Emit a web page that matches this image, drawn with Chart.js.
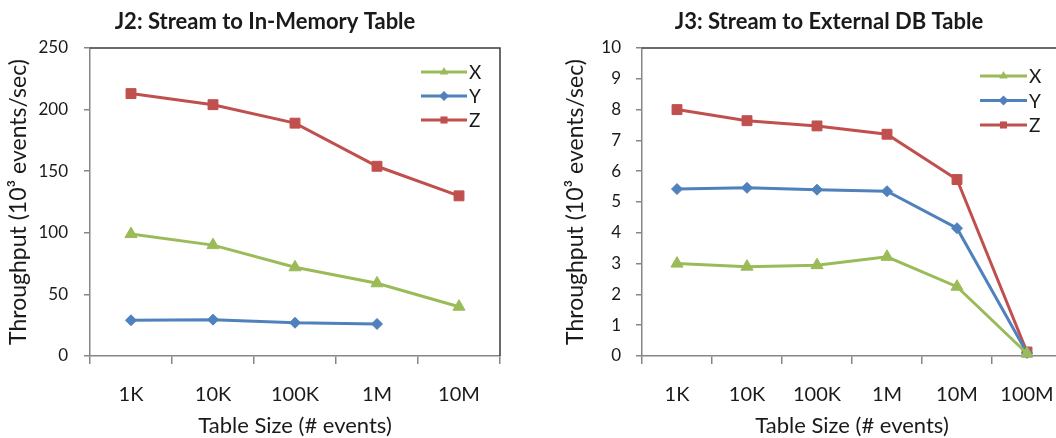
<!DOCTYPE html>
<html>
<head>
<meta charset="utf-8">
<script src="https://cdn.jsdelivr.net/npm/chart.js@4.4.1/dist/chart.umd.min.js"></script>
<style>
  html, body { margin: 0; padding: 0; background: #fff; overflow: hidden; }
  #wrap { position: relative; width: 1056px; height: 438px; overflow: hidden; }
  #wrap canvas { position: absolute; top: 0; }
</style>
</head>
<body>
<div id="wrap">
  <canvas id="j2" width="530" height="438" style="left:0"></canvas>
  <canvas id="j3" width="598" height="438" style="left:530px"></canvas>
</div>
<script>
// J2: stream joined with an in-memory table (10^3 events/sec)
const sizesJ2 = ['1K', '10K', '100K', '1M', '10M'];
const j2X = [99, 90, 72, 59, 40];
const j2Y = [29, 29.5, 27, 26, null];
const j2Z = [213, 204, 189, 154, 130];

// J3: stream joined with an external DB table (10^3 events/sec)
const sizesJ3 = ['1K', '10K', '100K', '1M', '10M', '100M'];
const j3X = [3.0, 2.9, 2.95, 3.22, 2.25, 0.08];
const j3Y = [5.42, 5.46, 5.4, 5.35, 4.15, 0.1];
const j3Z = [8.0, 7.64, 7.47, 7.2, 5.73, 0.13];

const FONT = 'Lato, "Open Sans", sans-serif';
const GREEN = '#9BBB59', BLUE = '#4F81BD', RED = '#C0504D';
const AXIS = '#868686', INK = '#1a1a1a';

// plot frame on top/right plus the little key inside the plot
const frameAndKey = {
  id: 'frameAndKey',
  afterDatasetsDraw(chart, args, opts) {
    const { ctx, chartArea: a } = chart;
    ctx.save();
    ctx.strokeStyle = '#3a3a3a';
    ctx.lineWidth = 1.5;
    ctx.beginPath();
    ctx.moveTo(a.left, a.top);
    ctx.lineTo(a.right, a.top);
    ctx.lineTo(a.right, a.bottom);
    ctx.stroke();

    chart.data.datasets.forEach((ds, i) => {
      const y = a.top + opts.top + i * opts.gap;
      const x0 = a.right - opts.start, x1 = a.right - opts.end;
      ctx.strokeStyle = ds.borderColor;
      ctx.lineWidth = 3;
      ctx.beginPath();
      ctx.moveTo(x0, y);
      ctx.lineTo(x1, y);
      ctx.stroke();
      ctx.fillStyle = ds.borderColor;
      Chart.helpers.drawPoint(ctx, {
        pointStyle: ds.pointStyle, radius: 5, rotation: 0, borderWidth: 0
      }, (x0 + x1) / 2, y);
      ctx.fillStyle = INK;
      ctx.font = '19px ' + FONT;
      ctx.textBaseline = 'middle';
      ctx.textAlign = 'left';
      ctx.fillText(ds.label, x1 + 2, y + 1);
    });
    ctx.restore();
  }
};

function series(label, data, color, style, radius) {
  return {
    label: label, data: data,
    borderColor: color, backgroundColor: color,
    borderWidth: 3, pointStyle: style,
    pointRadius: radius, pointBorderWidth: 1,
    pointHoverRadius: radius,
    tension: 0, clip: false, spanGaps: false
  };
}

// the side padding is kept equal so the title sits centred on the canvas;
// the y axis box is narrowed by the same amount and its title pulled left
function makeChart(id, title, labels, xs, ys, zs, yMax, step, box) {
  return new Chart(document.getElementById(id), {
    type: 'line',
    data: {
      labels: labels,
      datasets: [
        series('X', xs, GREEN, 'triangle', 7),
        series('Y', ys, BLUE, 'rectRot', 5.5),
        series('Z', zs, RED, 'rect', 7)
      ]
    },
    options: {
      responsive: false,
      animation: false,
      layout: { padding: { left: box.side, right: box.side, top: 0, bottom: 0 } },
      plugins: {
        legend: { display: false },
        tooltip: { enabled: false },
        title: {
          display: true, text: title, color: INK,
          font: { family: FONT, size: 22, weight: 'bold', lineHeight: 1.2 },
          padding: { top: 9, bottom: 12.6 }
        },
        frameAndKey: box.key
      },
      scales: {
        x: {
          offset: true,
          afterFit: s => { s.height = 82; },
          grid: {
            offset: true, drawOnChartArea: false, tickLength: 8,
            color: AXIS, lineWidth: 1.5
          },
          border: { color: AXIS, width: 1.5 },
          ticks: {
            color: INK, padding: 19,
            font: { family: FONT, size: 20 }
          },
          title: {
            display: true, text: 'Table Size (# events)', color: INK,
            font: { family: FONT, size: 22, lineHeight: 1.1 },
            padding: { top: 0, bottom: 0 }
          }
        },
        y: {
          min: 0, max: yMax,
          afterFit: s => { s.width = box.plotLeft - box.side; },
          grid: {
            drawOnChartArea: false, tickLength: 6,
            color: AXIS, lineWidth: 1.5
          },
          border: { color: AXIS, width: 1.5 },
          ticks: {
            stepSize: step, color: INK, padding: box.tickPad,
            font: { family: FONT, size: 17 }
          },
          title: {
            display: true, text: 'Throughput (10³ events/sec)', color: INK,
            font: { family: FONT, size: 23, lineHeight: 1.2 },
            padding: { top: box.titleX - 13.8 - box.side, bottom: 0 }
          }
        }
      }
    },
    plugins: [frameAndKey]
  });
}

makeChart('j2', 'J2: Stream to In-Memory Table', sizesJ2, j2X, j2Y, j2Z, 250, 50, {
  side: 30, plotLeft: 90, tickPad: 16, titleX: 18.5,
  key: { top: 24, gap: 24, start: 79, end: 33 }
});

makeChart('j3', 'J3: Stream to External DB Table', sizesJ3, j3X, j3Y, j3Z, 10, 1, {
  side: 66, plotLeft: 112, tickPad: 15, titleX: 46,
  key: { top: 28, gap: 24.5, start: 82, end: 35 }
});
</script>
</body>
</html>
